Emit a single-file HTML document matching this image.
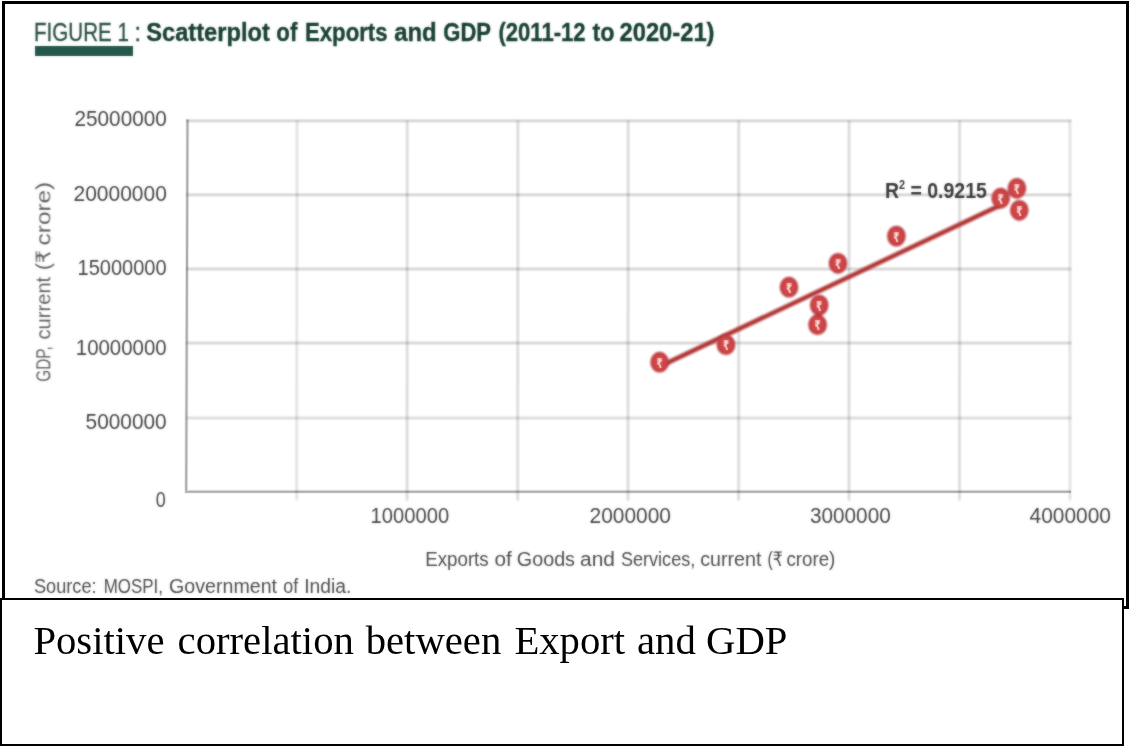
<!DOCTYPE html>
<html lang="en">
<head>
<meta charset="utf-8">
<title>Figure 1: Scatterplot of Exports and GDP</title>
<style>
  html, body { margin: 0; padding: 0; background: #ffffff; }
  body { width: 1130px; height: 746px; overflow: hidden; position: relative; }
  svg { display: block; position: absolute; left: 0; top: 0; }
  .sans { font-family: "Liberation Sans", "DejaVu Sans", sans-serif; }
  .serif { font-family: "Liberation Serif", "DejaVu Serif", serif; }
  .tick { font-family: "Liberation Sans", "DejaVu Sans", sans-serif; font-size: 21.4px; fill: #444444; }
  .axis { font-family: "Liberation Sans", "DejaVu Sans", sans-serif; font-size: 20px; fill: #4c4c4c; }
  #ytitle text { fill: #606060; }
  .ttl { font-family: "Liberation Sans", "DejaVu Sans", sans-serif; font-size: 25.2px; fill: #173f33; font-weight: bold; stroke: #173f33; stroke-width: 0.4px; }
  .fig { font-family: "Liberation Sans", "DejaVu Sans", sans-serif; font-size: 25.2px; fill: #2a5043; font-weight: normal; stroke: #2a5043; stroke-width: 0.3px; }
</style>
</head>
<body>
<svg width="1130" height="746" viewBox="0 0 1130 746">
  <rect x="0" y="0" width="1130" height="746" fill="#ffffff"/>

  <!-- upper framed figure box -->
  <rect x="3.5" y="2.5" width="1124" height="605" fill="#ffffff" stroke="#000000" stroke-width="3"/>

  <defs>
    <filter id="soft" x="-2%" y="-2%" width="104%" height="104%" color-interpolation-filters="sRGB">
      <feGaussianBlur stdDeviation="1"/>
    </filter>
    <filter id="softtext" x="-5%" y="-20%" width="110%" height="140%" color-interpolation-filters="sRGB">
      <feGaussianBlur in="SourceGraphic" stdDeviation="1" result="b"/>
      <feComposite in="SourceGraphic" in2="b" operator="arithmetic" k1="0" k2="0.5" k3="0.5" k4="0"/>
    </filter>
    <filter id="softer" x="-2%" y="-2%" width="104%" height="104%" color-interpolation-filters="sRGB">
      <feGaussianBlur stdDeviation="1"/>
    </filter>
  </defs>

  <g id="figure">
  <!-- title -->
  <g id="title" filter="url(#softtext)">
    <text class="fig" x="34" y="41" textLength="95" lengthAdjust="spacingAndGlyphs">FIGURE 1</text>
    <text class="fig" x="134.2" y="41">:</text>
    <rect x="35" y="46" width="98" height="10" fill="#24574a"/>
    <text class="ttl" x="146.3" y="41" textLength="123.5" lengthAdjust="spacingAndGlyphs">Scatterplot</text>
    <text class="ttl" x="276.3" y="41" textLength="21" lengthAdjust="spacingAndGlyphs">of</text>
    <text class="ttl" x="305" y="41" textLength="82.5" lengthAdjust="spacingAndGlyphs">Exports</text>
    <text class="ttl" x="394.2" y="41" textLength="42.5" lengthAdjust="spacingAndGlyphs">and</text>
    <text class="ttl" x="443.3" y="41" textLength="47.7" lengthAdjust="spacingAndGlyphs">GDP</text>
    <text class="ttl" x="498.5" y="41" textLength="87" lengthAdjust="spacingAndGlyphs">(2011-12</text>
    <text class="ttl" x="592.5" y="41" textLength="22" lengthAdjust="spacingAndGlyphs">to</text>
    <text class="ttl" x="619.5" y="41" textLength="95" lengthAdjust="spacingAndGlyphs">2020-21)</text>
  </g>

  <!-- grid -->
  <g id="grid" stroke="#000000" stroke-opacity="0.3" stroke-width="1.5" fill="none" filter="url(#softer)">
    <line x1="186.5" y1="120.7" x2="1071.3" y2="120.7"/>
    <line x1="186.5" y1="194.75" x2="1071.3" y2="194.75"/>
    <line x1="186.5" y1="268.9" x2="1071.3" y2="268.9"/>
    <line x1="186.5" y1="343" x2="1071.3" y2="343"/>
    <line x1="186.5" y1="418.1" x2="1071.3" y2="418.1" stroke-opacity="0.19" stroke-width="2"/>
    <line x1="297" y1="120.5" x2="296.6" y2="500.5" stroke-opacity="0.2"/>
    <line x1="407.3" y1="120.5" x2="407.1" y2="500.5" stroke-opacity="0.26"/>
    <line x1="517.8" y1="120.5" x2="517.6" y2="500.5" stroke-opacity="0.26"/>
    <line x1="628.2" y1="120.5" x2="628" y2="500.5" stroke-opacity="0.26"/>
    <line x1="738.7" y1="120.5" x2="738.6" y2="500.5" stroke-opacity="0.26"/>
    <line x1="849.1" y1="120.5" x2="849" y2="500.5" stroke-opacity="0.26"/>
    <line x1="959.6" y1="120.5" x2="959.5" y2="500.5" stroke-opacity="0.26"/>
    <line x1="1069.9" y1="120.5" x2="1069.9" y2="500.5" stroke-opacity="0.2"/>
  </g>
  <g id="axes" stroke="#000000" fill="none" stroke-linejoin="miter">
    <path d="M187.5 119.2 L186.2 491.7 L1071.2 491.7" stroke-width="3.8" stroke-opacity="0.1"/>
    <path d="M187.5 119.5 L186.2 491.7 L1071 491.7" stroke-width="2" stroke-opacity="0.24"/>
  </g>

  <!-- y tick labels (right aligned at x=166.5) -->
  <g id="yticks" text-anchor="end" filter="url(#softtext)">
    <text class="tick" x="166.8" y="126" textLength="92.3" lengthAdjust="spacingAndGlyphs">25000000</text>
    <text class="tick" x="166.8" y="200.7" textLength="93.3" lengthAdjust="spacingAndGlyphs">20000000</text>
    <text class="tick" x="166.6" y="275" textLength="89" lengthAdjust="spacingAndGlyphs">15000000</text>
    <text class="tick" x="166.6" y="355.2" textLength="90.8" lengthAdjust="spacingAndGlyphs">10000000</text>
    <text class="tick" x="166.6" y="429.3" textLength="81" lengthAdjust="spacingAndGlyphs">5000000</text>
    <text class="tick" x="165.7" y="507" textLength="10" lengthAdjust="spacingAndGlyphs">0</text>
  </g>

  <!-- x tick labels -->
  <g id="xticks" filter="url(#softtext)">
    <text class="tick" x="370.6" y="522.8" textLength="78.6" lengthAdjust="spacingAndGlyphs">1000000</text>
    <text class="tick" x="589.6" y="522.8" textLength="81.4" lengthAdjust="spacingAndGlyphs">2000000</text>
    <text class="tick" x="810" y="522.8" textLength="80.7" lengthAdjust="spacingAndGlyphs">3000000</text>
    <text class="tick" x="1029.6" y="522.8" textLength="81.3" lengthAdjust="spacingAndGlyphs">4000000</text>
  </g>

  <!-- axis titles -->
  <g id="xtitle" filter="url(#softtext)">
    <text class="axis" x="425.2" y="566.3" textLength="63.5" lengthAdjust="spacingAndGlyphs">Exports</text>
    <text class="axis" x="494.4" y="566.3" textLength="17.3" lengthAdjust="spacingAndGlyphs">of</text>
    <text class="axis" x="516.8" y="566.3" textLength="58.2" lengthAdjust="spacingAndGlyphs">Goods</text>
    <text class="axis" x="580.0" y="566.3" textLength="34.9" lengthAdjust="spacingAndGlyphs">and</text>
    <text class="axis" x="621.0" y="566.3" textLength="74.2" lengthAdjust="spacingAndGlyphs">Services,</text>
    <text class="axis" x="700.2" y="566.3" textLength="61.2" lengthAdjust="spacingAndGlyphs">current</text>
    <text class="axis" x="767.4" y="566.3" textLength="15.4" lengthAdjust="spacingAndGlyphs">(₹</text>
    <text class="axis" x="786.4" y="566.3" textLength="48.9" lengthAdjust="spacingAndGlyphs">crore)</text>
  </g>
  <g id="ytitle" filter="url(#softtext)" transform="translate(50.3 382) rotate(-90)">
    <text class="axis" x="0.3" y="0" textLength="35.5" lengthAdjust="spacingAndGlyphs">GDP,</text>
    <text class="axis" x="42.5" y="0" textLength="62.7" lengthAdjust="spacingAndGlyphs">current</text>
    <text class="axis" x="111.9" y="0" textLength="20.3" lengthAdjust="spacingAndGlyphs">(₹</text>
    <text class="axis" x="136.6" y="0" textLength="63.6" lengthAdjust="spacingAndGlyphs">crore)</text>
  </g>

  <!-- R squared label -->
  <text class="sans" filter="url(#softtext)" x="884.9" y="197.7" font-size="22.4" font-weight="bold" fill="#383838" textLength="102" lengthAdjust="spacingAndGlyphs">R<tspan font-size="12.5" dy="-8.6">2</tspan><tspan dy="8.6"> = 0.9215</tspan></text>

  <!-- trend line -->
  <line x1="661" y1="365.8" x2="999" y2="205.9" stroke="#b03836" stroke-width="4.6" stroke-linecap="round" filter="url(#soft)"/>

  <!-- data markers -->
  <g id="pts" fill="#cf4646" stroke="#b7363d" stroke-width="1.6" filter="url(#soft)">
    <ellipse cx="659.6" cy="362.2" rx="8.5" ry="9.6"/>
    <ellipse cx="726" cy="344.7" rx="8.5" ry="9.6"/>
    <ellipse cx="789" cy="287.2" rx="8.5" ry="9.6"/>
    <ellipse cx="819.2" cy="305.1" rx="8.5" ry="9.6"/>
    <ellipse cx="817.6" cy="324.7" rx="8.5" ry="9.6"/>
    <ellipse cx="838" cy="263.3" rx="8.5" ry="9.6"/>
    <ellipse cx="896.4" cy="236.1" rx="8.5" ry="9.6"/>
    <ellipse cx="1000.7" cy="198.2" rx="8.5" ry="9.6"/>
    <ellipse cx="1016.9" cy="188.3" rx="8.5" ry="9.6"/>
    <ellipse cx="1019.3" cy="210.3" rx="8.5" ry="9.6"/>
  </g>
  <g id="rupees" class="sans" font-size="13.5" font-weight="bold" fill="#ffe3e0" filter="url(#softtext)">
    <text x="656.5" y="367.6" textLength="6.2" lengthAdjust="spacingAndGlyphs">₹</text>
    <text x="722.9" y="350.1" textLength="6.2" lengthAdjust="spacingAndGlyphs">₹</text>
    <text x="785.9" y="292.6" textLength="6.2" lengthAdjust="spacingAndGlyphs">₹</text>
    <text x="816.1" y="310.5" textLength="6.2" lengthAdjust="spacingAndGlyphs">₹</text>
    <text x="814.5" y="330.1" textLength="6.2" lengthAdjust="spacingAndGlyphs">₹</text>
    <text x="834.9" y="268.7" textLength="6.2" lengthAdjust="spacingAndGlyphs">₹</text>
    <text x="893.3" y="241.5" textLength="6.2" lengthAdjust="spacingAndGlyphs">₹</text>
    <text x="997.6" y="203.6" textLength="6.2" lengthAdjust="spacingAndGlyphs">₹</text>
    <text x="1013.8" y="193.7" textLength="6.2" lengthAdjust="spacingAndGlyphs">₹</text>
    <text x="1016.2" y="215.7" textLength="6.2" lengthAdjust="spacingAndGlyphs">₹</text>
  </g>

  <!-- source note -->
  <g id="source" filter="url(#softtext)">
    <text class="axis" x="33.9" y="593.3" textLength="62.7" lengthAdjust="spacingAndGlyphs">Source:</text>
    <text class="axis" x="103.7" y="593.3" textLength="59.2" lengthAdjust="spacingAndGlyphs">MOSPI,</text>
    <text class="axis" x="169.1" y="593.3" textLength="107.9" lengthAdjust="spacingAndGlyphs">Government</text>
    <text class="axis" x="283.3" y="593.3" textLength="14.9" lengthAdjust="spacingAndGlyphs">of</text>
    <text class="axis" x="304.2" y="593.3" textLength="47.2" lengthAdjust="spacingAndGlyphs">India.</text>
  </g>
  </g>

  <!-- lower caption box (overlaps bottom of the figure box) -->
  <rect x="1" y="599" width="1122" height="146" fill="#ffffff" stroke="#000000" stroke-width="2"/>
  <g id="caption" class="serif" font-size="40.7" fill="#000000">
    <text x="33.4" y="654">Positive</text>
    <text x="177.6" y="654">correlation</text>
    <text x="365.7" y="654">between</text>
    <text x="514.4" y="654">Export</text>
    <text x="637.0" y="654">and</text>
    <text x="706.0" y="654">GDP</text>
  </g>

</svg>
</body>
</html>
